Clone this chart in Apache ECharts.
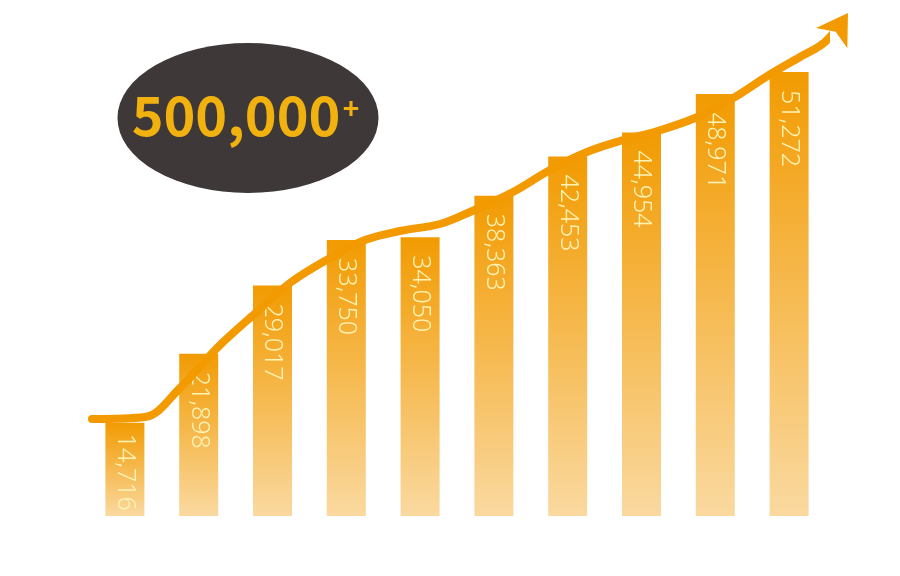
<!DOCTYPE html>
<html><head><meta charset="utf-8">
<script src="https://cdn.jsdelivr.net/npm/echarts@6/dist/echarts.min.js"></script>
<style>html,body{margin:0;padding:0;background:#fff}#c{width:900px;height:576px}</style>
</head><body><div id="c"></div>
<script>
const categories = ['1','2','3','4','5','6','7','8','9','10'];
const values = [14716,21898,29017,33750,34050,38363,42453,44954,48971,51272];
// trend arrow path, in category-position units (x) and value units (y)
const trendX = [-0.446,0.272,0.747,1.261,1.763,2.251,2.752,3.253,3.728,4.270,4.676,5.259,5.760,6.261,6.709,7.264,7.790,8.267,8.728,9.148,9.486,9.798];
const trendY = [15108,15317,18340,22600,26100,29370,31770,33760,34700,35429,36680,38764,41057,42932,44079,45225,46684,48664,50957,52832,54396,57418];
const badgeText = '500,000';
const badgeSup = '+';

const orange = '#F29A00';
const trendData = trendX.map((x, i) => {
  if (i === trendX.length - 1) {
    return { value: [x, trendY[i]], symbol: 'arrow', symbolSize: [28, 30], symbolRotate: -33, itemStyle: { color: orange } };
  }
  return { value: [x, trendY[i]], symbol: 'none' };
});
// the shortest bar gets its label a little closer to the top so it fits
const barData = values.map((v, i) => (i === 0 ? { value: v, label: { distance: 11 } } : v));

const chart = echarts.init(document.getElementById('c'));
chart.setOption({
  animation: false,
  backgroundColor: '#ffffff',
  textStyle: { fontFamily: 'Noto Sans' },
  grid: { left: 88, right: 74, top: 17, bottom: 60 },
  xAxis: [
    { type: 'category', data: categories, boundaryGap: true, show: false },
    { type: 'value', min: -0.5, max: 9.5, show: false }
  ],
  yAxis: [{ type: 'value', min: 5000, max: 57000, show: false }],
  series: [
    {
      type: 'bar',
      data: barData,
      barWidth: 39,
      z: 2,
      itemStyle: {
        color: new echarts.graphic.LinearGradient(0, 0, 0, 1, [
          { offset: 0, color: '#F29B02' },
          { offset: 1, color: '#FAD9A0' }
        ])
      },
      label: {
        show: true,
        position: 'insideTop',
        rotate: -90,
        align: 'left',
        verticalAlign: 'middle',
        distance: 18,
        color: '#FFF3B5',
        fontSize: 25,
        fontWeight: 300,
        fontFamily: 'Noto Sans',
        formatter: p => Number(p.value).toLocaleString('en-US')
      }
    },
    {
      type: 'line',
      xAxisIndex: 1,
      yAxisIndex: 0,
      data: trendData,
      smooth: 0.35,
      showSymbol: true,
      symbol: 'none',
      clip: false,
      z: 5,
      lineStyle: { color: orange, width: 8, cap: 'round' },
      itemStyle: { color: orange }
    }
  ],
  graphic: [
    { type: 'circle', x: 248, y: 118, scaleX: 1.74, shape: { cx: 0, cy: 0, r: 75 }, style: { fill: '#3E3938' }, z: 1 },
    { type: 'text', x: 236, y: 115, z: 2, style: { text: badgeText, fill: '#F1B10F', fontSize: 54, fontWeight: 'bold', fontFamily: 'Noto Sans CJK SC', align: 'center', verticalAlign: 'middle' } },
    { type: 'text', x: 351, y: 108, z: 2, style: { text: badgeSup, fill: '#F1B10F', fontSize: 28, fontWeight: 'bold', fontFamily: 'Noto Sans CJK SC', align: 'center', verticalAlign: 'middle' } }
  ]
});
</script>
</body></html>
